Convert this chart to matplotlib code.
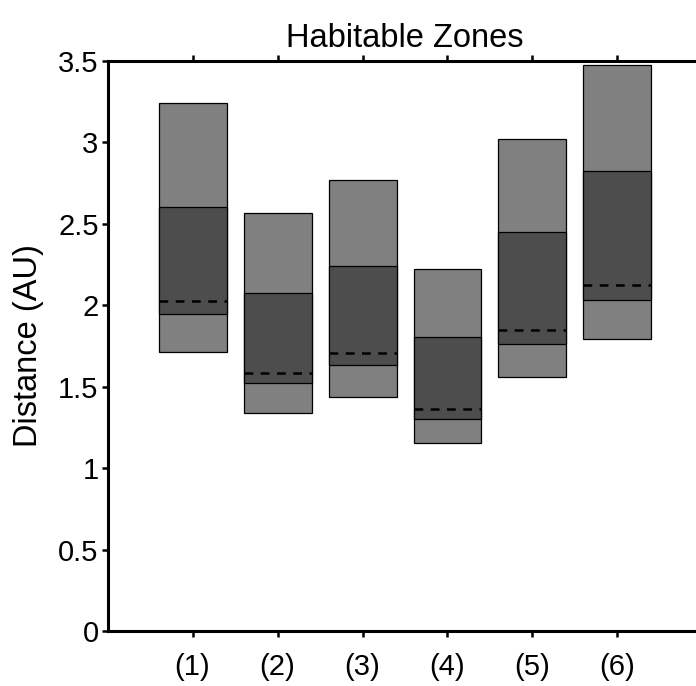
import matplotlib
matplotlib.use("Agg")
import matplotlib.pyplot as plt
from matplotlib.patches import Rectangle

plt.rcParams['font.family'] = ['Liberation Sans', 'DejaVu Sans']

labels = ["(1)", "(2)", "(3)", "(4)", "(5)", "(6)"]
outer_inner = [1.715, 1.341, 1.439, 1.152, 1.560, 1.795]
outer_outer = [3.244, 2.567, 2.767, 2.225, 3.019, 3.477]
cons_inner = [1.948, 1.521, 1.631, 1.304, 1.764, 2.034]
cons_outer = [2.605, 2.073, 2.239, 1.805, 2.450, 2.825]
earth_equiv = [2.028, 1.586, 1.705, 1.365, 1.846, 2.127]

fig = plt.figure(figsize=(6.96, 6.86), dpi=100)
ax = fig.add_axes([0.1545, 0.0802, 1.0093 - 0.1545, 0.911 - 0.0802])

w = 0.8
for i in range(len(labels)):
    x = i + 1
    ax.add_patch(Rectangle((x - w / 2, outer_inner[i]), w, outer_outer[i] - outer_inner[i],
                           facecolor="#808080", edgecolor="black", linewidth=0.9, zorder=2))
    ax.add_patch(Rectangle((x - w / 2, cons_inner[i]), w, cons_outer[i] - cons_inner[i],
                           facecolor="#4d4d4d", edgecolor="black", linewidth=0.9, zorder=3))
    ax.plot([x - w / 2, x + w / 2], [earth_equiv[i]] * 2, color="black",
            linestyle=(0, (3.5, 3)), linewidth=1.8, zorder=4)

ax.set_xlim(0, 7)
ax.set_ylim(0, 3.5)
ax.set_xticks(range(1, 7))
ax.set_xticklabels(labels)
ax.set_yticks([0, 0.5, 1, 1.5, 2, 2.5, 3, 3.5])
ax.set_yticklabels(["0", "0.5", "1", "1.5", "2", "2.5", "3", "3.5"])

for side in ["left", "bottom", "top"]:
    ax.spines[side].set_linewidth(2.2)
ax.spines["right"].set_visible(False)
ax.tick_params(axis="both", direction="out", length=4.5, width=1.8, labelsize=21)
ax.tick_params(axis="y", pad=2)
ax.tick_params(axis="x", top=True, pad=11)

ax.set_ylabel("Distance (AU)", fontsize=23.5, labelpad=10)
ax.set_title("Habitable Zones", fontsize=23.5, pad=10)

fig.savefig("out.png", dpi=100)
